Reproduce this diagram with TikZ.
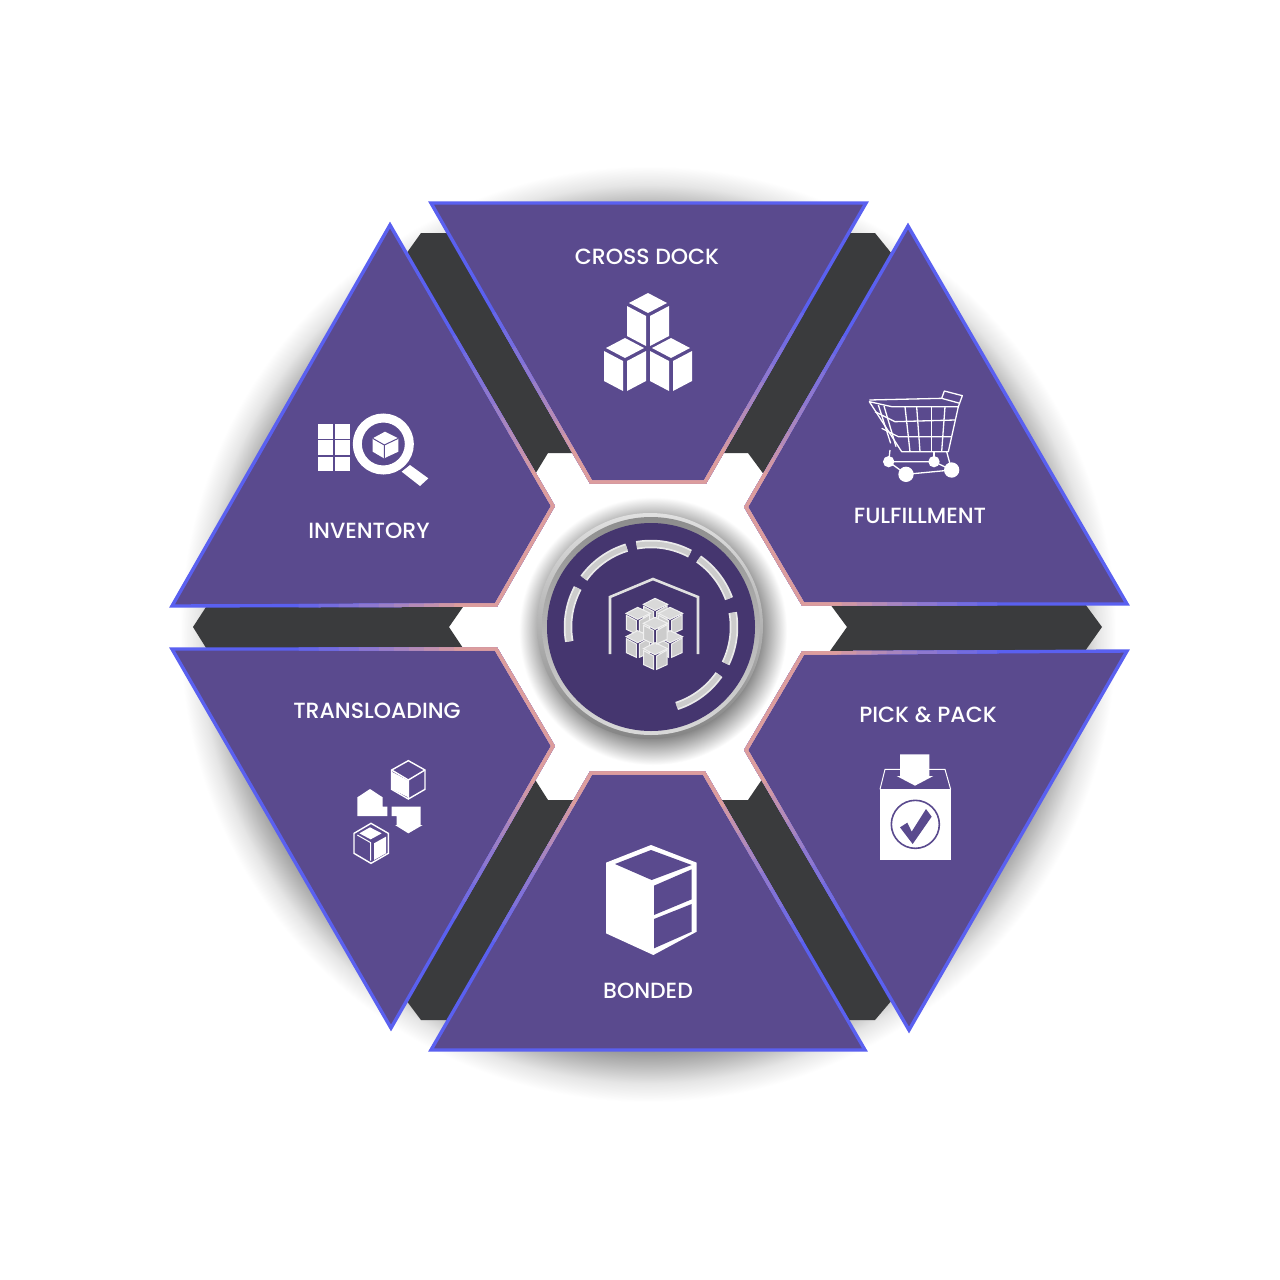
\documentclass[tikz,border=0pt]{standalone}
\usepackage{fontspec}
\setmainfont{Poppins}[UprightFont=* Medium]
\definecolor{sectorfill}{HTML}{5A4A8E}
\definecolor{hubfill}{HTML}{45366F}
\definecolor{barfill}{HTML}{3A3B3D}
\definecolor{rimblue}{HTML}{5A60F0}
\definecolor{rimpink}{HTML}{DC9D9D}
\pgfdeclareradialshading{outerglow}{\pgfpoint{0bp}{0bp}}{rgb(0bp)=(1,1,1);rgb(21bp)=(1,1,1);rgb(22bp)=(.55,.55,.55);rgb(23bp)=(.72,.72,.72);rgb(24bp)=(.9,.9,.9);rgb(25bp)=(1,1,1);rgb(50bp)=(1,1,1)}
\pgfdeclareradialshading{hubglow}{\pgfpoint{0bp}{0bp}}{rgb(0bp)=(.45,.45,.45);rgb(19bp)=(.45,.45,.45);rgb(25bp)=(1,1,1);rgb(50bp)=(1,1,1)}
\tikzstyle{label}=[text=white,font=\fontsize{22}{26}\selectfont,inner sep=0pt]
\tikzstyle{icon}=[fill=white,draw=none]
\tikzstyle{cutout}=[fill=sectorfill,draw=none]
\tikzstyle{wire}=[draw=white,line width=1.3pt,line join=round]
\newcommand{\sectorpaths}{(431,203)--(866,203)--(705,482)--(591,482)--cycle
  (908,226)--(1127,604)--(803,604)--(746,507)--cycle
  (1127,651)--(909,1030)--(746,750)--(803,653)--cycle
  (431,1050)--(865,1050)--(704,773)--(591,773)--cycle
  (172,649)--(391,1028)--(553,746)--(496,649)--cycle
  (390,225)--(172,606)--(496,605)--(553,506)--cycle}
\begin{document}
\begin{tikzpicture}[x=1pt,y=-1pt]
\useasboundingbox (0,0) rectangle (1280,1280);
\fill[white] (0,0) rectangle (1280,1280);

%glow behind the ring
\shade[shading=outerglow] (648,634) circle (468pt);

%bars between the sectors
\fill[barfill] (193,627)--(208,604)--(465,604)--(449,627)--(465,651)--(208,651)--cycle;
\fill[barfill] (1102,627)--(1085,604)--(830,604)--(847,627)--(830,651)--(1085,651)--cycle;
\fill[barfill] (845,233)--(875,233)--(892,254)--(765,476)--(748,453)--(715,453)--cycle;
\fill[barfill] (451,233)--(421,233)--(406,254)--(534,476)--(548,453)--(581,453)--cycle;
\fill[barfill] (845,1020)--(875,1020)--(892,1000)--(763,778)--(748,800)--(715,800)--cycle;
\fill[barfill] (451,1020)--(421,1020)--(406,1000)--(534,778)--(548,800)--(581,800)--cycle;

%sectors, rim colour runs from the hub outwards
\fill[sectorfill] \sectorpaths;
\foreach \r/\m in {520/100,350/90,330/80,310/70,290/60,270/50,255/40,240/30,225/20,210/10,195/0} {
  \begin{scope}
    \clip (648,627) circle (\r pt);
    \draw[line width=3.4pt,color=rimblue!\m!rimpink] \sectorpaths;
  \end{scope}
}

%hub
\shade[shading=hubglow] (653,631) circle (134pt);
\draw[top color=white!88!black,bottom color=black!48,draw=none] (650,626) circle (113pt);
\draw[top color=black!45,bottom color=white!85!black,draw=none] (651,626) circle (109pt);
\fill[hubfill] (651,627) circle (104pt);
\foreach \a/\b in {62/100,20/55,-26/10,-72/-35,107/144,152/190} {
  \draw[color=white!92!black,line width=8.5pt] plot[domain=\a:\b,samples=24] ({651+83*cos(\x)},{627-83*sin(\x)});
  \draw[color=white!80!black,line width=5pt] plot[domain=\a:\b,samples=24] ({651+83*cos(\x)},{627-83*sin(\x)});
}
\draw[color=white!88!black,line width=2.6pt,line join=miter] (610,654)--(610,597)--(653,579)--(698,597)--(698,654);
\begin{scope}[shift={(600,580)},scale=1/3]
  \foreach \vx/\vy in {165/93,113/120,210/120,113/190,210/190,165/226,165/150} {
    \filldraw[fill=white!85!black,draw=white!94!black,line width=1pt] (\vx,\vy-38)--(\vx+38,\vy-20)--(\vx,\vy-2)--(\vx-35,\vy-20)--cycle;
    \filldraw[fill=white!80!black,draw=white!94!black,line width=1pt] (\vx-34,\vy-14)--(\vx-4,\vy+2)--(\vx-4,\vy+42)--(\vx-34,\vy+28)--cycle;
    \filldraw[fill=white!80!black,draw=white!94!black,line width=1pt] (\vx+5,\vy+2)--(\vx+36,\vy-16)--(\vx+36,\vy+28)--(\vx+5,\vy+42)--cycle;
  }
\end{scope}

%cross dock
\node[label] (crossdock) at (647,257) {CROSS DOCK};
\foreach \vx/\vy in {648/315,625/360,671/360} {
  \fill[icon] (\vx,\vy-2)--(\vx+19,\vy-12)--(\vx,\vy-22)--(\vx-19,\vy-12)--cycle;
  \fill[icon] (\vx-21,\vy-9)--(\vx-2,\vy+1)--(\vx-2,\vy+31)--(\vx-21,\vy+21)--cycle;
  \fill[icon] (\vx+2,\vy+1)--(\vx+21,\vy-9)--(\vx+21,\vy+21)--(\vx+2,\vy+31)--cycle;
}

%fulfillment
\node[label] (fulfillment) at (920,516) {FULFILLMENT};
\begin{scope}[shift={(580,230)},scale=1/3]
  \draw[wire] (868,515)--(965,665)--(1105,665)--(1135,530)--(935,530)--cycle;
  \draw[wire] (868,510)--(1085,505)--(1093,483)--(1147,497)--(1135,530);
  \draw[wire] (1085,505)--(1140,520);
  \draw[wire] (885,545)--(945,575)--(1125,570);
  \draw[wire] (905,595)--(955,620)--(1115,620);
  \foreach \ta/\ba in {975/990,1010/1020,1055/1055,1095/1085} {
    \draw[wire] (\ta,530)--(\ba,665);
  }
  \draw[wire] (895,525)--(932,640);
  \draw[wire] (912,528)--(948,650);
  \draw[wire] (930,660)--(926,695)--(978,733)--(1115,720)--(1100,665);
  \draw[wire] (926,695)--(1062,695)--(1115,720);
  \draw[wire] (1062,665)--(1062,695);
  \fill[icon] (926,695) circle (17pt);
  \fill[icon] (1062,695) circle (17pt);
  \fill[icon] (978,733) circle (23pt);
  \fill[icon] (1115,720) circle (23pt);
\end{scope}

%pick and pack
\node[label] (pickpack) at (928,715) {PICK \& PACK};
\begin{scope}[shift={(850,700)},scale=1/3]
  \fill[icon] (90,268) rectangle (302,480);
  \draw[color=white,line width=1pt] (90,268)--(105,208)--(285,208)--(302,268);
  \fill[icon] (150,163)--(238,163)--(238,228)--(250,228)--(195,257)--(140,228)--(150,228)--cycle;
  \draw[color=sectorfill,line width=1.6pt] (196,373) circle (72pt);
  \fill[cutout] (150,382)--(172,368)--(185,395)--(228,327)--(245,350)--(188,432)--cycle;
\end{scope}

%bonded
\node[label] (bonded) at (648,991) {BONDED};
\begin{scope}[shift={(590,840)},scale=1/3]
  \fill[icon] (183,15)--(320,68)--(320,275)--(190,345)--(48,280)--(48,68)--cycle;
  \fill[cutout] (183,30)--(305,75)--(185,120)--(75,72)--cycle;
  \fill[cutout] (192,137)--(305,88)--(305,178)--(192,225)--cycle;
  \fill[cutout] (192,237)--(305,192)--(305,275)--(192,325)--cycle;
\end{scope}

%transloading
\node[label] (transloading) at (377,711) {TRANSLOADING};
\begin{scope}[shift={(280,690)},scale=1/3]
  \draw[color=white,line width=1.4pt] (385,212)--(435,240)--(435,298)--(385,327)--(335,298)--(335,240)--cycle;
  \draw[color=white,line width=1.4pt] (335,240)--(385,270)--(435,240) (385,270)--(385,327);
  \fill[icon] (335,245)--(385,272)--(385,322)--(335,297)--cycle;
  \draw[color=white,line width=1.4pt] (273,400)--(325,430)--(325,490)--(273,520)--(222,490)--(222,430)--cycle;
  \fill[icon] (270,412)--(305,430)--(272,448)--(238,430)--cycle;
  \fill[icon] (282,460)--(318,440)--(318,490)--(282,510)--cycle;
  \draw[color=white,line width=1pt] (232,435)--(272,458)--(272,512);
  \fill[icon] (270,297)--(308,322)--(308,350)--(322,350)--(322,378)--(232,378)--(232,322)--cycle;
  \fill[icon] (335,350)--(422,350)--(422,405)--(428,405)--(385,430)--(345,405)--(350,405)--(350,378)--(335,378)--cycle;
\end{scope}

%inventory
\node[label] (inventory) at (369,531) {INVENTORY};
\begin{scope}[shift={(300,400)},scale=1/3]
  \foreach \gx in {55,105} {
    \foreach \gy in {72,120,170} {
      \fill[icon] (\gx,\gy) rectangle ++(44,44);
    }
  }
  \draw[color=white,line width=9pt] (250,132) circle (78pt);
  \fill[icon] (330,195)--(385,235)--(360,258)--(305,215)--cycle;
  \fill[icon] (255,95)--(295,115)--(295,155)--(252,175)--(218,155)--(218,115)--cycle;
  \draw[color=sectorfill,line width=1pt] (218,115)--(253,135)--(295,115) (253,135)--(253,175);
\end{scope}

\end{tikzpicture}
\end{document}
